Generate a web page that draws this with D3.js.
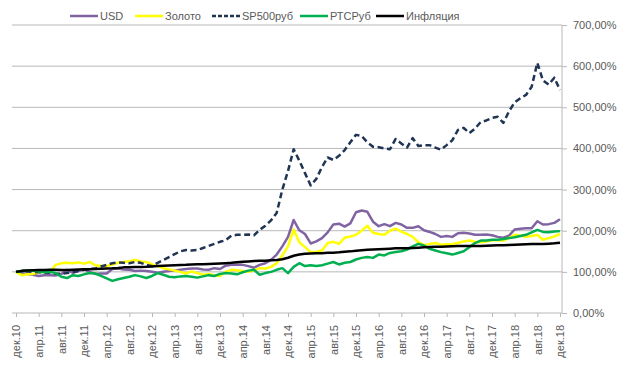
<!DOCTYPE html>
<head>
  <meta charset="utf-8">
  <title>Доходность</title>
  <script src="https://cdn.jsdelivr.net/npm/d3@7"></script>
  <style>
    body { margin: 0; background: #fff; }
    text { font-family: "Liberation Sans", Arial, sans-serif; }
  </style>
</head>
<body>
  <svg width="620" height="369"></svg>

  <script>
  // month names for the category axis (дек.10 ... дек.18)
  var monthNames = ["янв", "фев", "мар", "апр", "май", "июн", "июл", "авг", "сен", "окт", "ноя", "дек"];
  var yTicks = [0, 100, 200, 300, 400, 500, 600, 700];

  // values in %, dec 2010 = 100
  var usd = [100,
    97, 95, 93, 90, 92, 92, 91, 95, 105, 98, 102, 106,
    100, 95, 96, 96, 107, 108, 106, 105, 102, 103, 102, 100,
    98, 100, 102, 103, 105, 107, 108, 108, 106, 105, 109, 107,
    115, 117, 117, 117, 114, 110, 117, 121, 129, 142, 162, 185,
    226, 201, 192, 169, 174, 182, 196, 215, 217, 210, 218, 245,
    249, 246, 222, 211, 216, 211, 219, 215, 207, 207, 211, 201,
    197, 192, 185, 187, 185, 194, 195, 193, 190, 190, 191, 189,
    185, 183, 188, 203, 205, 206, 206, 223, 215, 216, 219, 228];

  var gold = [100,
    92, 94, 95, 99, 100, 99, 117, 121, 122, 121, 123, 120,
    124, 116, 114, 114, 118, 122, 124, 126, 129, 125, 124, 118,
    114, 109, 106, 103, 100, 96, 101, 97, 93, 95, 92, 90,
    100, 105, 104, 102, 100, 104, 109, 108, 112, 121, 140, 162,
    203, 172, 160, 148, 149, 152, 170, 173, 168, 183, 186, 190,
    200, 212, 195, 192, 190, 200, 205, 198, 192, 185, 172, 165,
    168, 170, 166, 167, 168, 170, 174, 176, 173, 172, 174, 177,
    177, 176, 182, 190, 188, 185, 187, 190, 178, 182, 186, 192];

  var sp500 = [100,
    100, 101, 100, 99, 98, 98, 96, 95, 97, 99, 102, 105,
    107, 108, 113, 117, 121, 123, 122, 121, 124, 122, 117, 114,
    122, 129, 136, 143, 150, 153, 152, 153, 158, 163, 168, 173,
    177, 188, 190, 190, 191, 189, 202, 212, 225, 243, 300, 345,
    398, 370, 340, 310, 326, 355, 378, 372, 382, 396, 415, 433,
    430, 415, 404, 403, 400, 398, 423, 412, 402, 425, 406, 408,
    408, 402, 397, 408, 420, 445, 450, 437, 448, 464, 468, 474,
    477, 462, 490, 512, 522, 530, 550, 608, 565, 555, 572, 542];

  var rts = [100,
    102, 104, 103, 101, 99, 100, 97, 88, 85, 92, 90, 94,
    97, 96, 90, 84, 78, 82, 85, 88, 92, 89, 85, 90,
    97, 93, 88, 87, 89, 90, 88, 86, 89, 92, 90, 95,
    97, 96, 94, 99, 103, 105, 93, 97, 100, 105, 109, 97,
    112, 121, 114, 116, 114, 116, 120, 124, 118, 122, 124, 130,
    134, 136, 134, 142, 140, 146, 148, 150, 154, 162, 168, 164,
    156, 152, 148, 145, 142, 146, 150, 160, 170, 176, 176, 178,
    178, 180, 182, 184, 187, 190, 196, 202, 197, 196, 198, 199];

  var inflation = [100,
    102.4, 103.2, 103.8, 104.3, 104.8, 105.0, 105.0, 104.8, 104.8, 105.3, 105.7, 106.1,
    106.6, 107.0, 107.7, 108.0, 108.5, 109.4, 110.9, 111.0, 111.6, 112.1, 112.4, 113.1,
    114.2, 114.8, 115.2, 115.8, 116.6, 117.1, 118.1, 118.2, 118.4, 119.1, 119.8, 120.5,
    121.2, 122.0, 123.2, 124.3, 125.4, 126.2, 126.8, 127.1, 128.0, 129.0, 130.6, 134.2,
    139.2, 142.2, 143.8, 144.5, 145.1, 145.4, 146.2, 146.7, 147.5, 148.7, 149.8, 151.5,
    152.8, 153.7, 154.4, 155.1, 155.7, 156.3, 157.1, 157.1, 157.4, 158.1, 158.8, 159.7,
    160.7, 161.1, 161.3, 161.9, 162.3, 162.6, 163.0, 162.8, 162.6, 163.0, 163.4, 163.9,
    164.4, 164.9, 165.4, 166.0, 166.6, 167.2, 167.7, 167.7, 167.9, 168.5, 169.3, 170.7];

  var series = [
    {name: "USD", values: usd, color: "#8064a2", dash: null},
    {name: "Золото", values: gold, color: "#ffff00", dash: null},
    {name: "SP500руб", values: sp500, color: "#1f3553", dash: "6,3.5"},
    {name: "РТСРуб", values: rts, color: "#00b050", dash: null},
    {name: "Инфляция", values: inflation, color: "#000000", dash: null}
  ];

  var months = [];
  for (var i = 0; i < usd.length; i++) {
    var m = (11 + i) % 12;
    var yy = 10 + Math.floor((11 + i) / 12);
    months.push(monthNames[m] + "." + yy);
  }

  var svg = d3.select("svg"),
      width = +svg.attr("width"),
      height = +svg.attr("height");

  var x = d3.scalePoint()
      .domain(months)
      .range([16, 560]);

  var y = d3.scaleLinear()
      .domain([0, 700])
      .range([313, 25]);

  var fmt = function(d) { return d3.format(".2f")(d).replace(".", ",") + "%"; };

  // gridlines
  svg.append("g")
    .selectAll("line")
    .data(yTicks.slice(1))
    .enter().append("line")
      .attr("x1", 12)
      .attr("x2", 562)
      .attr("y1", function(d) { return y(d); })
      .attr("y2", function(d) { return y(d); })
      .attr("stroke", "#b8b8b8")
      .attr("stroke-width", 1);

  // right axis
  var yAxis = svg.append("g")
      .attr("transform", "translate(562,0)")
      .call(d3.axisRight(y).tickValues(yTicks).tickFormat(fmt).tickSize(5).tickPadding(6));
  yAxis.select(".domain").attr("stroke", "#b8b8b8").attr("d", "M0," + y(0) + "V" + y(700));
  yAxis.selectAll(".tick line").attr("stroke", "#b8b8b8");
  yAxis.selectAll("text")
      .attr("fill", "#595959")
      .attr("font-size", 11)
      .attr("font-family", "Liberation Sans, Arial, sans-serif");

  // bottom axis
  var xAxis = svg.append("g")
      .attr("transform", "translate(0," + y(0) + ")")
      .call(d3.axisBottom(x)
        .tickValues(months.filter(function(d, i) { return i % 4 == 0; }))
        .tickSize(4)
        .tickSizeOuter(0));
  xAxis.select(".domain").attr("stroke", "#b8b8b8").attr("d", "M12,0H562");
  xAxis.selectAll(".tick line").attr("stroke", "#b8b8b8");
  xAxis.selectAll("text")
      .attr("fill", "#595959")
      .attr("font-size", 11)
      .attr("font-family", "Liberation Sans, Arial, sans-serif")
      .attr("text-anchor", "end")
      .attr("transform", "rotate(-90)")
      .attr("x", -12)
      .attr("y", 0)
      .attr("dy", "0.35em");

  var line = d3.line()
      .x(function(d, i) { return x(months[i]); })
      .y(function(d) { return y(d); });

  svg.append("g")
    .selectAll("path")
    .data(series)
    .enter().append("path")
      .attr("d", function(d) { return line(d.values); })
      .attr("fill", "none")
      .attr("stroke", function(d) { return d.color; })
      .attr("stroke-width", 2.5)
      .attr("stroke-linejoin", "round")
      .attr("stroke-dasharray", function(d) { return d.dash; });

  // legend
  var legendX = [70, 135, 212, 300, 376];
  var legend = svg.append("g")
    .selectAll("g")
    .data(series)
    .enter().append("g")
      .attr("transform", function(d, i) { return "translate(" + legendX[i] + ",16)"; });
  legend.append("line")
      .attr("x1", 0)
      .attr("x2", 28)
      .attr("stroke", function(d) { return d.color; })
      .attr("stroke-width", 2.5)
      .attr("stroke-dasharray", function(d) { return d.dash ? "4,2" : null; });
  legend.append("text")
      .attr("x", 30)
      .attr("dy", "0.35em")
      .attr("fill", "#595959")
      .attr("font-size", 11)
      .text(function(d) { return d.name; });
  </script>
</body>
